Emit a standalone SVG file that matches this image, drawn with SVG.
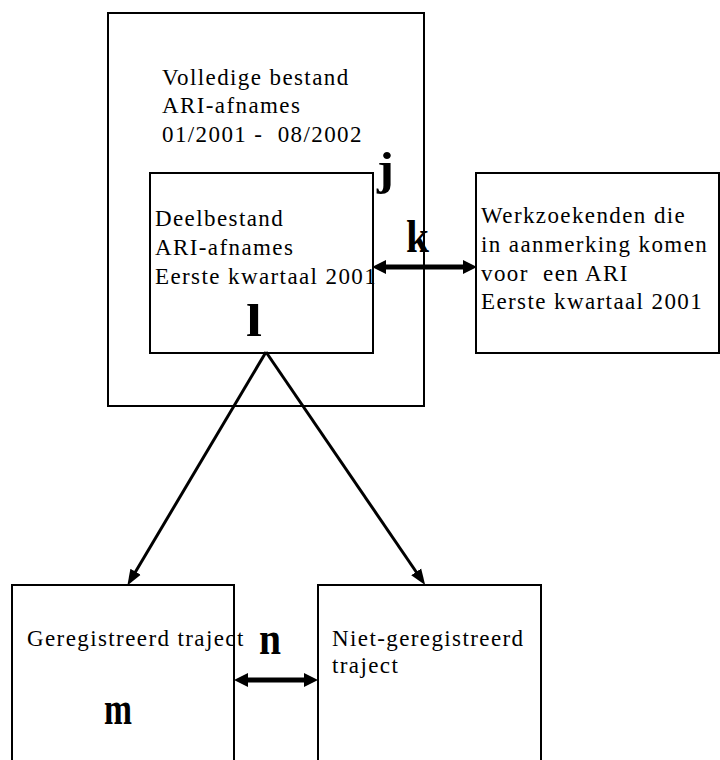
<svg xmlns="http://www.w3.org/2000/svg" width="720" height="760" viewBox="0 0 720 760">
<style>
.box{fill:none;stroke:#000;stroke-width:2}
.t{font-family:"Liberation Serif","Times New Roman",serif;font-size:23px;letter-spacing:1.4px;fill:#000}
.lbl{font-family:"Liberation Serif","Times New Roman",serif;font-size:46px;font-weight:bold;fill:#000}
.thick{stroke:#000;stroke-width:5;fill:none}
.thin{stroke:#000;stroke-width:3;fill:none}
</style>
<defs>
<marker id="ah" markerUnits="userSpaceOnUse" markerWidth="14" markerHeight="14" viewBox="0 0 14 14" refX="5" refY="7" orient="auto-start-reverse">
<path d="M0,0 L14,7 L0,14 z" fill="#000"/>
</marker>
<marker id="ah2" markerUnits="userSpaceOnUse" markerWidth="16" markerHeight="14" viewBox="0 0 16 14" refX="5" refY="7" orient="auto">
<path d="M0,1 L16,7 L0,13 z" fill="#000"/>
</marker>
</defs>
<rect width="720" height="760" fill="#fff"/>
<g id="outer">
<rect class="box" x="108" y="13" width="316" height="393"/>
<text class="t" x="162" y="85">Volledige bestand</text>
<text class="t" x="162" y="113">ARI-afnames</text>
<text class="t" x="162" y="142" xml:space="preserve">01/2001 -  08/2002</text>
</g>
<g id="inner">
<rect class="box" x="150" y="173" width="223" height="180" fill="#fff"/>
<text class="t" x="155" y="226">Deelbestand</text>
<text class="t" x="155" y="255">ARI-afnames</text>
<text class="t" x="155" y="284">Eerste kwartaal 2001</text>
</g>
<g id="werkzoekenden">
<rect class="box" x="476" y="173" width="243" height="180"/>
<text class="t" x="481" y="223">Werkzoekenden die</text>
<text class="t" x="481" y="252">in aanmerking komen</text>
<text class="t" x="481" y="281" xml:space="preserve">voor  een ARI</text>
<text class="t" x="481" y="309">Eerste kwartaal 2001</text>
</g>
<g id="geregistreerd">
<rect class="box" x="12" y="585" width="222" height="190"/>
<text class="t" x="27" y="646">Geregistreerd traject</text>
</g>
<g id="niet-geregistreerd">
<rect class="box" x="318" y="585" width="223" height="190"/>
<text class="t" x="332" y="646">Niet-geregistreerd</text>
<text class="t" x="332" y="673">traject</text>
</g>
<g id="connectors">
<line class="thick" x1="381" y1="267" x2="468" y2="267" marker-start="url(#ah)" marker-end="url(#ah)"/>
<line class="thick" x1="243" y1="680" x2="309" y2="680" marker-start="url(#ah)" marker-end="url(#ah)"/>
<line class="thin" x1="266" y1="352" x2="133" y2="576" marker-end="url(#ah2)"/>
<line class="thin" x1="266" y1="352" x2="419" y2="576" marker-end="url(#ah2)"/>
</g>
<g id="labels">
<text class="lbl" x="377" y="184" textLength="17" lengthAdjust="spacingAndGlyphs">j</text>
<text class="lbl" x="406" y="252" textLength="23" lengthAdjust="spacingAndGlyphs">k</text>
<text class="lbl" x="246" y="336" textLength="16" lengthAdjust="spacingAndGlyphs">l</text>
<text class="lbl" x="259" y="654" textLength="22" lengthAdjust="spacingAndGlyphs">n</text>
<text class="lbl" x="104" y="724" textLength="28" lengthAdjust="spacingAndGlyphs">m</text>
</g>
</svg>
